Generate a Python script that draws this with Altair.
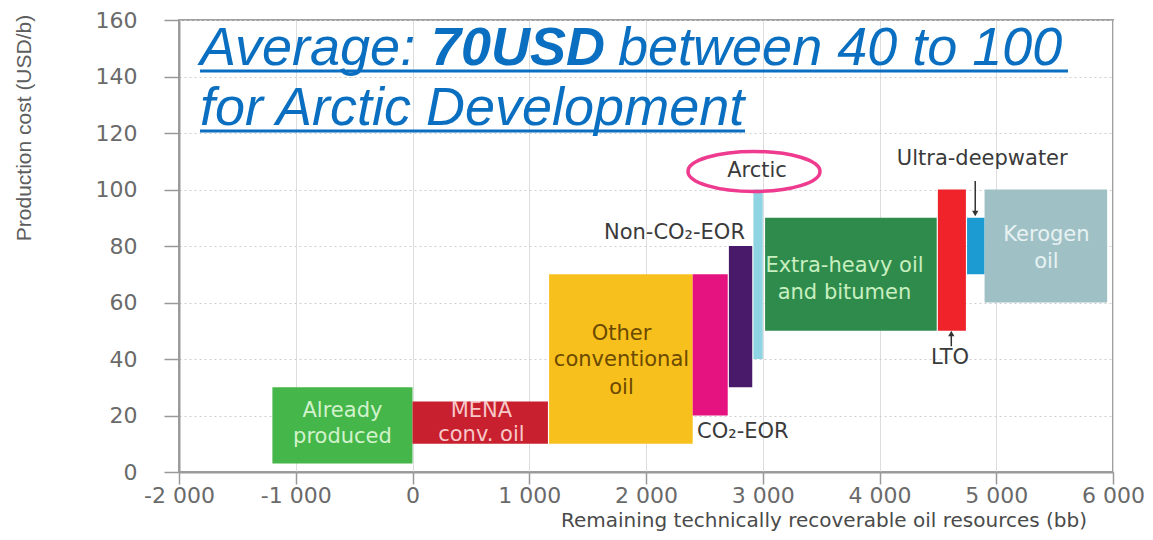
import altair as alt
import pandas as pd

# ---- data ----
names = ["Already produced", "MENA conv. oil", "Other conventional oil", "CO2-EOR",
         "Non-CO2-EOR", "Arctic", "Extra-heavy oil and bitumen", "LTO",
         "Ultra-deepwater", "Kerogen oil"]
x_start = [-1200, 0, 1170, 2400, 2710, 2920, 3020, 4500, 4750, 4900]
x_end = [0, 1160, 2400, 2700, 2910, 3000, 4490, 4740, 4900, 5950]
cost_low = [3, 10, 10, 20, 30, 40, 50, 50, 70, 60]
cost_high = [30, 25, 70, 70, 80, 100, 90, 100, 90, 100]
colors = ["#45b649", "#c8202e", "#f8c01c", "#e4137f", "#4a1a6a",
          "#8fd4e2", "#2f8b4c", "#f0222a", "#1b9bd1", "#9fc1c6"]

box_text = ["Already", "produced", "MENA", "conv. oil", "Other", "conventional", "oil",
            "Extra-heavy oil", "and bitumen", "Kerogen", "oil"]
box_text_x = [-600, -600, 590, 590, 1790, 1790, 1790, 3700, 3700, 5430, 5430]
box_text_y = [21.5, 12.5, 21.5, 13, 49, 39.5, 29.7, 73, 63.5, 84, 74.5]
box_text_color = ["#d2f2cd", "#d2f2cd", "#f7c8c8", "#f7c8c8", "#6b4a00", "#6b4a00",
                  "#6b4a00", "#c8efc0", "#c8efc0", "#e8f2f2", "#e8f2f2"]

ann_text = ["Non-CO\u2082-EOR", "CO\u2082-EOR", "Arctic", "Ultra-deepwater", "LTO"]
ann_x = [2848, 2437, 2951, 4880, 4604]
ann_y = [84.6, 14.1, 106.4, 110.7, 40.2]
ann_align = ["right", "left", "center", "center", "center"]

arrow_x = [4820, 4615]
arrow_from = [103, 44.5]
arrow_to = [91.5, 49]
arrow_shape = ["triangle-down", "triangle-up"]

ellipse_x = [2925]
ellipse_y = [106.4]

x_ticks = [-2000, -1000, 0, 1000, 2000, 3000, 4000, 5000, 6000]
y_ticks = [0, 20, 40, 60, 80, 100, 120, 140, 160]

x_title = "Remaining technically recoverable oil resources (bb)"
y_title = "Production cost (USD/b)"

title_1a = "Average:"
title_1b = "70USD"
title_1c = "between 40 to 100"
title_2 = "for Arctic Development"

# ---- tables ----
boxes = pd.DataFrame({"name": names, "x0": x_start, "x1": x_end,
                      "y0": cost_low, "y1": cost_high})
btxt = pd.DataFrame({"t": box_text, "x": box_text_x, "y": box_text_y, "c": box_text_color})
ann = pd.DataFrame({"t": ann_text, "x": ann_x, "y": ann_y, "a": ann_align})
arr = pd.DataFrame({"x": arrow_x, "y0": arrow_from, "y1": arrow_to, "s": arrow_shape})
ell = pd.DataFrame({"x": ellipse_x, "y": ellipse_y})
one = pd.DataFrame({"k": [0]})

xs = alt.Scale(domain=[-2000, 6000], nice=False, zero=False)
ys = alt.Scale(domain=[0, 160], nice=False)

label_font = "DejaVu Sans"
TOP = 12  # plot top offset inside the svg

rects = alt.Chart(boxes).mark_rect().encode(
    x=alt.X("x0:Q", scale=xs, axis=alt.Axis(
        values=x_ticks,
        labelExpr="replace(replace(format(datum.value, ','), ',', ' '), '\u2212', '-')",
        title=None, labelFlush=False,
        tickSize=12, labelPadding=1, grid=True, gridColor="#dddddd",
    )),
    x2="x1:Q",
    y=alt.Y("y0:Q", scale=ys, axis=alt.Axis(
        values=y_ticks, title=None, labelFlush=False,
        tickSize=15, labelPadding=27, grid=True, gridColor="#cfcfcf", gridDash=[2, 3],
    )),
    y2="y1:Q",
    color=alt.Color("name:N", scale=alt.Scale(domain=names, range=colors), legend=None),
)

box_labels = alt.Chart(btxt).mark_text(font=label_font, fontSize=21, align="center",
                                       baseline="middle").encode(
    x=alt.X("x:Q", scale=xs), y=alt.Y("y:Q", scale=ys), text="t:N",
    color=alt.Color("c:N", scale=None),
)

ann_layers = []
for al in ["right", "left", "center"]:
    ann_layers.append(
        alt.Chart(ann).transform_filter(alt.datum.a == al).mark_text(
            font=label_font, fontSize=21, align=al, baseline="middle", color="#3a3a3a"
        ).encode(x=alt.X("x:Q", scale=xs), y=alt.Y("y:Q", scale=ys), text="t:N")
    )

arrow_lines = alt.Chart(arr).mark_rule(color="#333333", strokeWidth=1.5).encode(
    x=alt.X("x:Q", scale=xs), y=alt.Y("y0:Q", scale=ys), y2="y1:Q")
arrow_heads = alt.Chart(arr).mark_point(filled=True, color="#333333", size=40, opacity=1).encode(
    x=alt.X("x:Q", scale=xs), y=alt.Y("y1:Q", scale=ys),
    shape=alt.Shape("s:N", scale=None))

ellipse = alt.Chart(ell).mark_point(
    shape="M -1 0 A 1 0.303 0 1 1 1 0 A 1 0.303 0 1 1 -1 0 Z",
    size=132 * 132, filled=False, stroke="#ee3a8f", strokeWidth=3.5, opacity=1,
).encode(x=alt.X("x:Q", scale=xs), y=alt.Y("y:Q", scale=ys))

# axis titles as text (pixel offsets relative to the plot's top-left corner)
ytitle = alt.Chart(one).mark_text(text=y_title, font="Liberation Sans", fontSize=21,
                                  angle=270, align="center", baseline="middle",
                                  color="#5e5e5e").encode(x=alt.value(-154),
                                                          y=alt.value(128 - 8 - TOP))
xtitle = alt.Chart(one).mark_text(text=x_title, font=label_font, fontSize=20,
                                  align="center", baseline="alphabetic",
                                  color="#4a4a4a").encode(x=alt.value(645),
                                                          y=alt.value(527 - 8 - TOP))

tcol = "#0a6fc0"
tfont = "Liberation Sans"
L1 = 65 - 8 - TOP
L2 = 125 - 8 - TOP
t1a = alt.Chart(one).mark_text(text=title_1a, font=tfont, fontSize=54, fontStyle="italic",
                               align="left", baseline="alphabetic", color=tcol).encode(
    x=alt.value(21), y=alt.value(L1))
t1b = alt.Chart(one).mark_text(text=title_1b, font=tfont, fontSize=54, fontStyle="italic",
                               fontWeight="bold", align="left", baseline="alphabetic",
                               color=tcol).encode(x=alt.value(252), y=alt.value(L1))
t1c = alt.Chart(one).mark_text(text=title_1c, font=tfont, fontSize=54, fontStyle="italic",
                               align="left", baseline="alphabetic", color=tcol).encode(
    x=alt.value(439), y=alt.value(L1))
t2 = alt.Chart(one).mark_text(text=title_2, font=tfont, fontSize=54, fontStyle="italic",
                              align="left", baseline="alphabetic", color=tcol).encode(
    x=alt.value(21), y=alt.value(L2))
u1 = alt.Chart(one).mark_rule(color=tcol, strokeWidth=3).encode(
    x=alt.value(21), x2=alt.value(889), y=alt.value(L1 + 6))
u2 = alt.Chart(one).mark_rule(color=tcol, strokeWidth=3).encode(
    x=alt.value(21), x2=alt.value(566), y=alt.value(L2 + 6))

chart = alt.layer(
    rects, box_labels, *ann_layers, arrow_lines, arrow_heads, ellipse,
    ytitle, xtitle, t1a, t1b, t1c, t2, u1, u2
).properties(
    width=934, height=452,
    autosize=alt.AutoSizeParams(type="none"),
    padding={"left": 171, "top": TOP, "right": 32, "bottom": 60},
    background="white",
).configure_view(
    stroke="#a0a0a0", strokeWidth=2
).configure_axis(
    labelFont=label_font, labelFontSize=22, labelColor="#6a6a6a",
    domainColor="#999999", domainWidth=2, tickColor="#999999", tickWidth=1.5,
)

chart.save("out.html", embed_options={"renderer": "svg", "actions": False})
